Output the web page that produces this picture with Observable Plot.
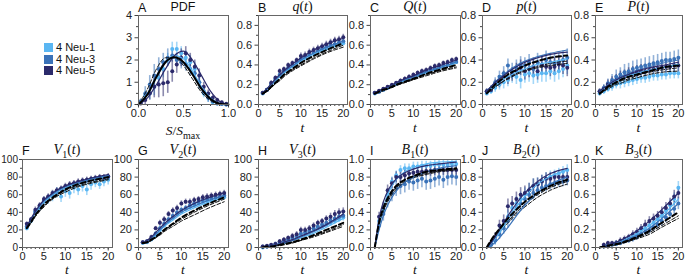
<!DOCTYPE html>
<html><head><meta charset="utf-8">
<script src="https://cdn.jsdelivr.net/npm/d3@7"></script>
<script src="https://cdn.jsdelivr.net/npm/@observablehq/plot@0.6"></script>
<style>
body{margin:0;background:#fff;}
#root{position:relative;width:685px;height:275px;font-family:"Liberation Sans",Arial,sans-serif;color:#111;overflow:hidden;}
.abs{position:absolute;line-height:14px;white-space:nowrap;}
.letter{font-size:12.5px;}
.title{font-family:"Liberation Serif","Times New Roman",serif;font-size:14px;transform:translateX(-50%);}
.title.sans{font-family:"Liberation Sans",Arial,sans-serif;font-size:12.5px;}
.title sub{font-size:10px;line-height:0;}
.xl{font-family:"Liberation Serif","Times New Roman",serif;font-size:13.5px;line-height:10px;transform:translateX(-50%);}
.xl sub{font-size:10px;line-height:0;}
.sw{width:9px;height:9px;}
.lt{font-size:11px;}
</style></head>
<body><div id="root"></div>
<script>
const series = ["4 Neu-1", "4 Neu-3", "4 Neu-5"];
const colors = ["#5ab6f2", "#3a72b8", "#2b2a6b"];

const tPts = [1,2,3,4,5,6,7,8,9,10,11,12,13,14,15,16,17,18,19,20];
const tPts2 = [2,3,4,5,6,7,8,9,10,11,12,13,14,15,16,17,18,19,20];
const tKnots = [1,2,3,4,5,6,8,10,13,16,20];
const sBins = [0.025,0.075,0.125,0.175,0.225,0.275,0.325,0.375,0.425,0.475,0.525,0.575,0.625,0.675,0.725,0.775,0.825,0.875,0.925,0.975];
const sKnots = [0,0.1,0.2,0.3,0.4,0.5,0.6,0.7,0.8,0.9,1.0];

// tick values
const tMajor = [0,5,10,15,20];
const tMinor = [0,1,2,3,4,5,6,7,8,9,10,11,12,13,14,15,16,17,18,19,20];
const sMajor = [0,0.5,1];
const sMinor = [0.1,0.2,0.3,0.4,0.6,0.7,0.8,0.9];
const pdfMajor = [0,1,2,3,4];
const pdfMinor = [0.5,1.5,2.5,3.5];
const fracMajor = [0,0.2,0.4,0.6,0.8];
const fracMinor = [0.1,0.3,0.5,0.7];
const unitMajor = [0,0.2,0.4,0.6,0.8,1.0];
const unitMinor = [0.1,0.3,0.5,0.7,0.9];
const volMajor = [0,20,40,60,80,100];
const volMinor = [10,30,50,70,90];

// A: PDF
const A_y1 = [0.1,0.4,0.5,0.8,1.2,1.6,2.0,2.5,2.5,2.3,2.1,1.9,1.6,1.0,0.5,0.3,0.1,0.05,0.02,0];
const A_e1 = [0.1,0.2,0.3,0.4,0.4,0.4,0.3,0.3,0.3,0.3,0.3,0.3,0.3,0.3,0.2,0.2,0.1,0.05,0.02,0];
const A_y3 = [0.15,0.5,0.9,1.3,1.6,1.9,2.1,2.2,2.0,1.9,1.8,1.6,1.4,1.0,0.6,0.3,0.15,0.05,0.02,0];
const A_e3 = [0.1,0.3,0.4,0.5,0.5,0.4,0.4,0.3,0.3,0.3,0.3,0.3,0.3,0.3,0.2,0.2,0.1,0.05,0.02,0];
const A_y5 = [0.05,0.2,0.5,0.8,0.9,0.95,1.0,1.5,1.8,2.1,2.3,2.0,1.7,1.3,0.8,0.5,0.3,0.2,0.1,0.03];
const A_e5 = [0.05,0.2,0.3,0.5,0.6,0.6,0.5,0.5,0.4,0.4,0.3,0.3,0.3,0.3,0.2,0.15,0.1,0.08,0.05,0.02];
const A_f1 = [0,0.45,1.2,1.9,2.2,2.05,1.5,0.8,0.3,0.05,0];
const A_f3 = [0,0.5,1.3,1.95,2.1,1.9,1.4,0.75,0.28,0.05,0];
const A_f5 = [0,0.3,0.9,1.6,2.2,2.4,2.0,1.3,0.6,0.15,0];
const A_black = [0,0.45,1.25,1.9,2.12,1.9,1.35,0.7,0.25,0.04,0];
const A_dash = [0,0.7,1.6,2.1,2.1,1.75,1.15,0.55,0.18,0.02,0];

// B: q(t)
const B_y1 = [.11,.15,.20,.25,.29,.33,.36,.39,.42,.45,.47,.49,.51,.53,.55,.57,.58,.60,.61,.62];
const B_y3 = [.12,.15,.21,.26,.30,.34,.37,.40,.43,.46,.48,.50,.52,.54,.56,.58,.60,.61,.63,.64];
const B_y5 = [.12,.15,.22,.27,.34,.36,.40,.42,.45,.49,.50,.53,.55,.57,.59,.61,.63,.65,.66,.68];
const B_e = [.01,.01,.02,.02,.02,.02,.02,.02,.02,.03,.03,.03,.03,.03,.03,.03,.03,.03,.03,.03];
const B_f1 = [.11,.15,.19,.24,.28,.32,.38,.44,.51,.56,.62];
const B_f3 = [.12,.16,.20,.25,.29,.33,.39,.45,.52,.58,.64];
const B_f5 = [.12,.16,.21,.26,.30,.34,.41,.47,.55,.61,.67];
const B_d0 = [.11,.14,.18,.22,.26,.30,.36,.42,.49,.55,.62];
const B_d1 = [.11,.14,.17,.21,.25,.29,.35,.40,.47,.53,.60];
const B_d2 = [.11,.13,.17,.21,.24,.28,.34,.39,.46,.52,.58];

// C: Q(t)
const C_y1 = [.11,.13,.15,.17,.19,.21,.23,.25,.26,.28,.30,.31,.33,.34,.36,.37,.39,.40,.41,.43];
const C_y3 = [.12,.13,.15,.17,.19,.21,.23,.25,.27,.28,.30,.32,.33,.35,.36,.38,.39,.40,.42,.43];
const C_y5 = [.12,.14,.16,.18,.20,.22,.24,.26,.28,.30,.32,.34,.35,.37,.39,.40,.42,.43,.45,.46];
const C_e = [.01,.01,.01,.01,.01,.01,.02,.02,.02,.02,.02,.02,.02,.02,.02,.02,.02,.02,.02,.02];
const C_f1 = [.11,.13,.15,.17,.19,.21,.24,.28,.32,.37,.42];
const C_f3 = [.12,.13,.15,.17,.19,.21,.25,.28,.33,.37,.43];
const C_f5 = [.12,.14,.16,.18,.20,.22,.26,.29,.35,.39,.45];
const C_d0 = [.11,.13,.15,.16,.18,.20,.23,.26,.31,.35,.40];
const C_d1 = [.11,.13,.14,.16,.18,.20,.23,.26,.30,.34,.38];
const C_d2 = [.11,.12,.14,.16,.17,.19,.22,.25,.29,.33,.37];

// D: p(t)
const D_y1 = [.10,.12,.15,.18,.20,.22,.26,.25,.22,.27,.28,.26,.27,.28,.28,.30,.28,.30,.32,.35];
const D_e1 = [.02,.03,.04,.05,.06,.06,.07,.07,.08,.08,.08,.08,.08,.08,.08,.08,.08,.08,.08,.08];
const D_y3 = [.12,.14,.20,.25,.28,.35,.30,.33,.36,.35,.38,.32,.38,.36,.40,.38,.37,.38,.40,.42];
const D_e3 = [.02,.03,.04,.05,.06,.06,.07,.07,.07,.07,.07,.08,.08,.08,.08,.08,.08,.08,.08,.08];
const D_y5 = [.12,.13,.18,.20,.25,.24,.27,.30,.33,.30,.32,.34,.30,.35,.34,.33,.34,.36,.35,.33];
const D_e5 = [.02,.03,.04,.05,.05,.06,.06,.07,.07,.08,.08,.08,.08,.08,.08,.08,.08,.08,.08,.08];
const D_f1 = [.10,.14,.17,.20,.23,.25,.29,.32,.36,.38,.41];
const D_f3 = [.12,.16,.20,.24,.27,.30,.35,.39,.43,.46,.49];
const D_f5 = [.12,.16,.20,.23,.26,.29,.34,.38,.42,.45,.47];
const D_d0 = [.10,.14,.18,.21,.24,.27,.31,.35,.39,.42,.44];
const D_d1 = [.10,.13,.16,.19,.21,.24,.28,.31,.34,.37,.39];
const D_d2 = [.10,.13,.16,.18,.21,.23,.27,.30,.33,.35,.37];

// E: P(t)
const E_y1 = [.10,.12,.14,.16,.18,.19,.20,.21,.22,.23,.24,.24,.25,.26,.26,.27,.27,.28,.28,.28];
const E_e1 = [.02,.03,.03,.04,.04,.05,.05,.05,.05,.05,.05,.05,.05,.05,.05,.05,.05,.05,.05,.05];
const E_y3 = [.12,.15,.19,.22,.25,.27,.29,.30,.32,.33,.34,.35,.36,.37,.38,.39,.40,.40,.41,.42];
const E_e3 = [.02,.03,.04,.05,.06,.06,.07,.07,.07,.07,.07,.07,.07,.07,.07,.07,.07,.07,.07,.07];
const E_y5 = [.12,.14,.18,.20,.22,.24,.25,.27,.28,.29,.30,.30,.31,.32,.32,.33,.34,.34,.35,.35];
const E_e5 = [.02,.03,.04,.05,.05,.06,.06,.06,.06,.06,.06,.06,.06,.06,.06,.06,.06,.06,.06,.06];
const E_f1 = [.11,.14,.16,.19,.21,.23,.26,.28,.31,.33,.36];
const E_f3 = [.12,.15,.18,.21,.23,.25,.28,.31,.34,.37,.40];
const E_f5 = [.12,.15,.17,.20,.22,.24,.27,.30,.33,.35,.38];
const E_d0 = [.10,.13,.16,.18,.20,.22,.25,.27,.30,.33,.35];
const E_d1 = [.10,.12,.15,.17,.19,.21,.23,.26,.29,.31,.33];
const E_d2 = [.09,.12,.14,.16,.18,.19,.22,.24,.27,.29,.30];

// F: V1(t)
const F_y1 = [22,30,40,45,52,54,58,62,58,64,62,68,66,70,66,72,74,72,75,77];
const F_e1 = [3,3,4,4,5,5,6,6,7,7,7,7,7,7,7,7,6,6,6,6];
const F_y3 = [24,31,41,47,53,57,60,63,66,68,70,72,73,75,76,77,78,79,79,80];
const F_e3 = [2,2,3,3,3,3,3,3,3,3,3,3,3,3,3,3,3,3,3,3];
const F_y5 = [27,32,43,48,55,58,62,65,67,70,72,73,75,76,77,78,79,80,80,81];
const F_e5 = [2,2,3,3,3,3,3,3,3,3,3,3,3,3,3,3,3,3,3,3];
const F_f1 = [22,31,39,46,52,56,63,68,73,77,81];
const F_f3 = [23,32,40,47,53,57,64,69,74,78,82];
const F_f5 = [24,33,41,48,54,58,65,70,75,79,83];
const F_d0 = [22,29,37,43,49,53,60,66,72,76,80];
const F_d1 = [22,29,36,42,47,52,59,65,70,74,78];
const F_d2 = [22,28,35,41,46,51,58,63,69,73,77];

// G: V2(t)
const G_y1 = [5,6,9,14,20,25,30,34,38,41,44,46,48,50,52,53,54,55,56,57];
const G_y3 = [6,7,10,16,22,27,32,36,40,43,45,48,50,52,54,55,56,57,58,59];
const G_y5 = [6,7,12,22,28,32,38,42,45,50,52,52,54,55,57,58,59,60,61,62];
const G_e = [1,1,2,2,3,3,3,3,3,3,3,3,3,3,3,3,3,3,3,3];
const G_f1 = [5,7,10,14,19,24,31,38,45,51,57];
const G_f3 = [5,7,11,15,20,25,33,40,47,53,59];
const G_f5 = [5,8,12,17,22,27,35,42,50,56,62];
const G_d0 = [5,6,9,12,16,20,27,34,42,49,57];
const G_d1 = [5,6,8,11,15,19,26,32,40,47,55];
const G_d2 = [5,6,8,11,14,18,24,30,37,44,52];

// H: V3(t)
const H_y1 = [0,1,2,3,5,6,8,10,12,14,16,18,20,22,24,26,28,30,32,34];
const H_y3 = [1,1,2,4,5,7,9,11,13,16,17,19,22,24,26,28,31,33,35,36];
const H_y5 = [1,2,3,4,7,9,11,13,15,20,20,22,25,28,30,33,35,38,40,41];
const H_e = [1,1,1,2,2,2,2,3,3,3,3,3,3,3,3,3,4,4,4,4];
const H_f1 = [0,1,2,3,4,5,8,11,16,23,33];
const H_f3 = [0,1,2,3,4,5,8,12,18,25,36];
const H_f5 = [0,1,2,3,4,6,9,13,19,26,38];
const H_d0 = [0,1,1,2,3,4,6,9,14,20,28];
const H_d1 = [0,1,1,2,3,4,6,8,13,18,26];
const H_d2 = [0,0,1,2,2,3,5,8,12,17,24];

// I: B1(t)
const I_y1 = [.30,.42,.60,.75,.82,.88,.90,.90,.92,.92,.93,.93,.93,.94,.94,.94,.94,.95,.95];
const I_e1 = [.05,.05,.05,.05,.05,.05,.05,.05,.05,.05,.05,.05,.05,.05,.05,.05,.05,.05,.05];
const I_y3 = [.25,.38,.55,.62,.68,.70,.72,.75,.74,.76,.78,.75,.76,.78,.80,.77,.80,.81,.80];
const I_e3 = [.06,.08,.1,.1,.1,.1,.1,.1,.1,.1,.1,.1,.1,.1,.1,.1,.1,.1,.1];
const I_y5 = [.35,.45,.65,.73,.80,.80,.82,.84,.85,.86,.86,.87,.87,.88,.88,.88,.88,.88,.88];
const I_e5 = [.05,.06,.06,.06,.06,.06,.06,.06,.06,.06,.06,.06,.06,.06,.06,.06,.06,.06,.06];
const I_f1 = [0,.25,.45,.60,.70,.77,.86,.91,.95,.97,.98];
const I_f3 = [0,.20,.36,.48,.57,.64,.74,.80,.86,.90,.93];
const I_f5 = [0,.33,.52,.64,.72,.78,.85,.89,.93,.95,.97];
const I_d0 = [0,.28,.45,.56,.64,.70,.77,.81,.86,.88,.90];
const I_d1 = [0,.26,.43,.54,.62,.68,.75,.80,.84,.87,.89];
const I_d2 = [0,.25,.41,.52,.60,.66,.74,.79,.83,.86,.88];

// J: B2(t)
const J_y1 = [.03,.08,.18,.25,.35,.45,.50,.55,.60,.65,.70,.72,.75,.78,.80,.82,.84,.86,.88];
const J_y3 = [.03,.08,.15,.22,.30,.38,.45,.50,.55,.60,.62,.65,.68,.70,.72,.73,.74,.75,.76];
const J_y5 = [.05,.12,.25,.30,.47,.50,.55,.60,.62,.65,.70,.72,.75,.78,.78,.80,.80,.80,.80];
const J_e = [.03,.05,.06,.07,.08,.08,.08,.08,.08,.08,.08,.07,.07,.07,.07,.06,.06,.06,.06];
const J_f1 = [0,.04,.10,.17,.24,.32,.46,.58,.72,.81,.88];
const J_f3 = [0,.02,.06,.11,.17,.23,.36,.48,.62,.72,.80];
const J_f5 = [0,.05,.12,.20,.28,.36,.50,.62,.75,.84,.90];
const J_d0 = [0,.08,.15,.21,.27,.33,.43,.52,.62,.70,.77];
const J_d1 = [0,.07,.13,.19,.25,.30,.40,.49,.60,.68,.75];
const J_d2 = [0,.06,.12,.17,.23,.28,.38,.46,.57,.65,.72];

// K: B3(t)
const K_y1 = [.02,.03,.04,.05,.06,.08,.10,.12,.15,.20,.22,.25,.28,.32,.36,.42,.48,.55,.68];
const K_y3 = [.01,.02,.03,.04,.05,.07,.08,.10,.12,.15,.18,.20,.23,.26,.30,.34,.38,.44,.50];
const K_y5 = [.03,.05,.05,.05,.08,.10,.12,.15,.18,.22,.26,.30,.33,.36,.40,.45,.50,.58,.62];
const K_e = [.02,.02,.02,.03,.03,.03,.03,.04,.04,.04,.05,.05,.05,.05,.06,.06,.06,.07,.07];
const K_f1 = [0,.01,.02,.03,.05,.07,.11,.16,.25,.36,.55];
const K_f3 = [0,.01,.02,.03,.04,.06,.10,.14,.22,.33,.50];
const K_f5 = [0,.01,.02,.04,.06,.08,.13,.19,.30,.43,.62];
const K_d0 = [0,.01,.02,.03,.04,.05,.08,.12,.19,.28,.40];
const K_d1 = [0,.01,.02,.03,.03,.05,.08,.11,.17,.25,.36];
const K_d2 = [0,.01,.01,.02,.03,.04,.07,.10,.15,.23,.33];

// ---------- build ----------
const root = document.getElementById("root");
const ML = 34, MR = 4, MT = 4, MB = 22;

function pts(xs, ys, es, s) { return xs.map((x, i) => ({x, y: ys[i], e: es[i], s})); }
function ln(xs, ys, s) { return xs.map((x, i) => ({x, y: ys[i], s})); }

function addHTML(html, cls, left, top) {
  const d = document.createElement("div");
  d.className = "abs " + cls;
  d.style.left = left + "px"; d.style.top = top + "px";
  d.innerHTML = html;
  root.appendChild(d);
  return d;
}

function panel(p) {
  const [x0, x1] = p.xs, [y0, y1] = p.ys;
  const width = x1 - x0 + ML + MR, height = y1 - y0 + MT + MB;
  const fitRows = [].concat(...p.fits.map((f, i) => ln(p.kx, f, series[i])));
  const ptRows = [].concat(...p.pts.map((q, i) => pts(p.px, q[0], q[1], series[i])));
  const dashThin = [].concat(ln(p.kx, p.dash[1], "d1"), p.dash[2] ? ln(p.kx, p.dash[2], "d2") : []);
  const yFont = p.yFont || 11;
  const marks = [
    Plot.axisX({ticks: p.xMinor, tickSize: 2, tickFormat: () => "", stroke: "#444", label: null}),
    Plot.axisX({ticks: p.xMajor, tickSize: 3.5, tickPadding: 1.5, tickFormat: d3.format(p.xFmt), stroke: "#444", fill: "#222", label: null}),
    Plot.axisY({ticks: p.yMinor, tickSize: 2, tickFormat: () => "", stroke: "#444", label: null}),
    Plot.axisY({ticks: p.yMajor, tickSize: p.yTick || 3.5, tickPadding: p.yPad || 3, tickFormat: d3.format(p.yFmt), stroke: "#444", fill: "#222", fontSize: yFont, label: null}),
    Plot.ruleX(ptRows, {x: "x", y1: d => Math.max(0, d.y - d.e), y2: d => d.y + d.e, stroke: "s", strokeOpacity: 0.55, strokeWidth: 1.6}),
    Plot.dot(ptRows, {x: "x", y: "y", fill: "s", r: 2, stroke: "none"}),
    Plot.line(dashThin, {x: "x", y: "y", z: "s", stroke: "#111", strokeWidth: 1, strokeDasharray: "4,2", curve: "monotone-x"}),
    Plot.line(fitRows, {x: "x", y: "y", z: "s", stroke: "s", strokeWidth: 1.2, curve: "monotone-x"}),
    Plot.line(ln(p.kx, p.dash[0], "d0"), {x: "x", y: "y", stroke: "#000", strokeWidth: 2, strokeDasharray: p.dash0Solid ? null : "5,3", curve: "monotone-x"}),
    Plot.frame({stroke: "#666", strokeWidth: 1})
  ];
  const svg = Plot.plot({
    width, height, marginLeft: ML, marginRight: MR, marginTop: MT, marginBottom: MB,
    x: {domain: p.xDomain, axis: null},
    y: {domain: p.yDomain, axis: null},
    color: {domain: series, range: colors},
    style: {fontFamily: "'Liberation Sans', Arial, sans-serif", fontSize: "11px", background: "transparent", overflow: "visible"},
    marks
  });
  svg.style.position = "absolute";
  svg.style.left = (x0 - ML) + "px";
  svg.style.top = (y0 - MT) + "px";
  root.appendChild(svg);
  const titleTop = p.row === 0 ? 0 : 143;
  addHTML(p.letter, "letter", x0, titleTop + 1);
  addHTML(p.title, "title" + (p.sans ? " sans" : ""), (x0 + x1) / 2, titleTop);
  addHTML(p.xlabel, "xl", (x0 + x1) / 2, p.xlTop || (p.row === 0 ? 123 : 264.5));
}

const topY = [15, 104], botY = [159, 247];
const tDom = [0, 21];
const tLabel = "<i>t</i>";
const common = {kx: tKnots, xDomain: tDom, xMajor: tMajor, xMinor: tMinor, xFmt: "d", xlabel: tLabel};

panel({letter: "A", title: "PDF", sans: true, row: 0, xs: [138, 228], ys: topY,
  px: sBins, kx: sKnots, xDomain: [0, 1], yDomain: [0, 4], xMajor: sMajor, xMinor: sMinor, xFmt: ".1f",
  yMajor: pdfMajor, yMinor: pdfMinor, yFmt: "d",
  pts: [[A_y1, A_e1], [A_y3, A_e3], [A_y5, A_e5]], fits: [A_f1, A_f3, A_f5], dash: [A_black, A_dash], dash0Solid: true,
  xlabel: "<i>S</i>/<i>S</i><sub>max</sub>", xlTop: 126});

panel({...common, letter: "B", title: "<i>q</i>(<i>t</i>)", row: 0, xs: [258, 347], ys: topY, px: tPts,
  yDomain: [0, 0.9], yMajor: fracMajor, yMinor: unitMinor, yFmt: ".1f",
  pts: [[B_y1, B_e], [B_y3, B_e], [B_y5, B_e]], fits: [B_f1, B_f3, B_f5], dash: [B_d0, B_d1, B_d2]});

panel({...common, letter: "C", title: "<i>Q</i>(<i>t</i>)", row: 0, xs: [370, 460], ys: topY, px: tPts,
  yDomain: [0, 0.9], yMajor: fracMajor, yMinor: unitMinor, yFmt: ".1f",
  pts: [[C_y1, C_e], [C_y3, C_e], [C_y5, C_e]], fits: [C_f1, C_f3, C_f5], dash: [C_d0, C_d1, C_d2]});

panel({...common, letter: "D", title: "<i>p</i>(<i>t</i>)", row: 0, xs: [482, 571], ys: topY, px: tPts,
  yDomain: [0, 0.8], yMajor: fracMajor, yMinor: fracMinor, yFmt: ".1f",
  pts: [[D_y1, D_e1], [D_y3, D_e3], [D_y5, D_e5]], fits: [D_f1, D_f3, D_f5], dash: [D_d0, D_d1, D_d2]});

panel({...common, letter: "E", title: "<i>P</i>(<i>t</i>)", row: 0, xs: [595, 682], ys: topY, px: tPts,
  yDomain: [0, 0.8], yMajor: fracMajor, yMinor: fracMinor, yFmt: ".1f",
  pts: [[E_y1, E_e1], [E_y3, E_e3], [E_y5, E_e5]], fits: [E_f1, E_f3, E_f5], dash: [E_d0, E_d1, E_d2]});

panel({...common, letter: "F", title: "<i>V</i><sub>1</sub>(<i>t</i>)", row: 1, xs: [22, 112], ys: botY, px: tPts,
  yDomain: [0, 100], yMajor: volMajor, yMinor: volMinor, yFmt: "d", yFont: 10, yTick: 3, yPad: 1.5,
  pts: [[F_y1, F_e1], [F_y3, F_e3], [F_y5, F_e5]], fits: [F_f1, F_f3, F_f5], dash: [F_d0, F_d1, F_d2]});

panel({...common, letter: "G", title: "<i>V</i><sub>2</sub>(<i>t</i>)", row: 1, xs: [138, 228], ys: botY, px: tPts,
  yDomain: [0, 100], yMajor: volMajor, yMinor: volMinor, yFmt: "d",
  pts: [[G_y1, G_e], [G_y3, G_e], [G_y5, G_e]], fits: [G_f1, G_f3, G_f5], dash: [G_d0, G_d1, G_d2]});

panel({...common, letter: "H", title: "<i>V</i><sub>3</sub>(<i>t</i>)", row: 1, xs: [258, 347], ys: botY, px: tPts,
  yDomain: [0, 100], yMajor: volMajor, yMinor: volMinor, yFmt: "d",
  pts: [[H_y1, H_e], [H_y3, H_e], [H_y5, H_e]], fits: [H_f1, H_f3, H_f5], dash: [H_d0, H_d1, H_d2]});

panel({...common, letter: "I", title: "<i>B</i><sub>1</sub>(<i>t</i>)", row: 1, xs: [370, 460], ys: botY, px: tPts2,
  yDomain: [0, 1], yMajor: unitMajor, yMinor: unitMinor, yFmt: ".1f",
  pts: [[I_y1, I_e1], [I_y3, I_e3], [I_y5, I_e5]], fits: [I_f1, I_f3, I_f5], dash: [I_d0, I_d1, I_d2]});

panel({...common, letter: "J", title: "<i>B</i><sub>2</sub>(<i>t</i>)", row: 1, xs: [482, 571], ys: botY, px: tPts2,
  yDomain: [0, 1], yMajor: unitMajor, yMinor: unitMinor, yFmt: ".1f",
  pts: [[J_y1, J_e], [J_y3, J_e], [J_y5, J_e]], fits: [J_f1, J_f3, J_f5], dash: [J_d0, J_d1, J_d2]});

panel({...common, letter: "K", title: "<i>B</i><sub>3</sub>(<i>t</i>)", row: 1, xs: [595, 682], ys: botY, px: tPts2,
  yDomain: [0, 1], yMajor: unitMajor, yMinor: unitMinor, yFmt: ".1f",
  pts: [[K_y1, K_e], [K_y3, K_e], [K_y5, K_e]], fits: [K_f1, K_f3, K_f5], dash: [K_d0, K_d1, K_d2]});

// legend
series.forEach((s, i) => {
  const sq = document.createElement("div");
  sq.className = "abs sw";
  sq.style.left = "44px"; sq.style.top = (43 + i * 11.5) + "px";
  sq.style.background = colors[i];
  root.appendChild(sq);
  addHTML(s, "lt", 56, 40 + i * 11.5);
});
</script></body></html>
